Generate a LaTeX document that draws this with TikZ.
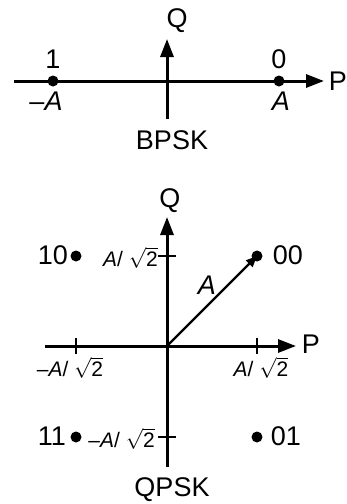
\documentclass[tikz,border=0pt]{standalone}
\usepackage{fontspec}
\setmainfont{Liberation Sans}
\usetikzlibrary{arrows.meta}
\newcommand{\sqtwo}{\(\sqrt{\mbox{2}}\)}
\tikzset{
  axis/.style={line width=3pt,-{Triangle[length=18pt,width=13pt]}},
  tick/.style={line width=2.4pt},
  vec/.style={line width=2.4pt,-{Triangle[length=11pt,width=9pt]}},
  pt/.style={circle,fill=black,inner sep=0pt,minimum size=11pt},
  lbl/.style={inner sep=0pt,font=\fontsize{27}{30}\selectfont},
  slbl/.style={inner sep=0pt,font=\fontsize{21}{24}\selectfont},
}
\begin{document}
\begin{tikzpicture}[x=1pt,y=-1pt]
\useasboundingbox (0,0) rectangle (347,504);
% BPSK
\coordinate (bl) at (14,81);
\coordinate (br) at (324,81);
\coordinate (bb) at (167,119);
\coordinate (bt) at (167,39);
\draw[axis] (bl) -- (br);
\draw[axis] (bb) -- (bt);
\node[pt] (b1) at (53,81) {};
\node[pt] (b0) at (279,81) {};
\node[lbl] (l1) at (53,59) {1};
\node[lbl] (l0) at (279,59) {0};
\node[lbl] (lmA) at (46,101) {–\textit{A}};
\node[lbl] (lA) at (281,101) {\textit{A}};
\node[lbl] (bP) at (338,81) {P};
\node[lbl] (bQ) at (177,21) {Q};
\node[lbl] (bpsk) at (172,140) {BPSK};
% QPSK
\coordinate (o) at (167,346);
\coordinate (ql) at (45,346);
\coordinate (qr) at (296,346);
\coordinate (qb) at (167,467);
\coordinate (qt) at (167,217);
\draw[axis] (ql) -- (qr);
\draw[axis] (qb) -- (qt);
\draw[tick] (76,338) -- (76,354);
\draw[tick] (257,338) -- (257,354);
\draw[tick] (158,256) -- (176,256);
\draw[tick] (158,437) -- (176,437);
\node[pt] (p00) at (257,256) {};
\node[pt] (p10) at (76,256) {};
\node[pt] (p11) at (76,437) {};
\node[pt] (p01) at (257,437) {};
\draw[vec] (o) -- (p00.center);
\node[lbl] (t00) at (288,255) {00};
\node[lbl] (t10) at (53,255) {10};
\node[lbl] (t11) at (52,436) {11};
\node[lbl] (t01) at (286,436) {01};
\node[lbl] (tA) at (207,285) {\textit{A}};
\node[slbl,anchor=east] (qy1) at (158,258) {\textit{A}/ \sqtwo};
\node[slbl,anchor=east] (qy2) at (155,439) {–\textit{A}/ \sqtwo};
\node[slbl] (qx1) at (70,368) {–\textit{A}/ \sqtwo};
\node[slbl] (qx2) at (261,368) {\textit{A}/ \sqtwo};
\node[lbl] (qP) at (311,344) {P};
\node[lbl] (qQ) at (170,201) {Q};
\node[lbl] (qpsk) at (172,490) {QPSK};
\end{tikzpicture}
\end{document}
